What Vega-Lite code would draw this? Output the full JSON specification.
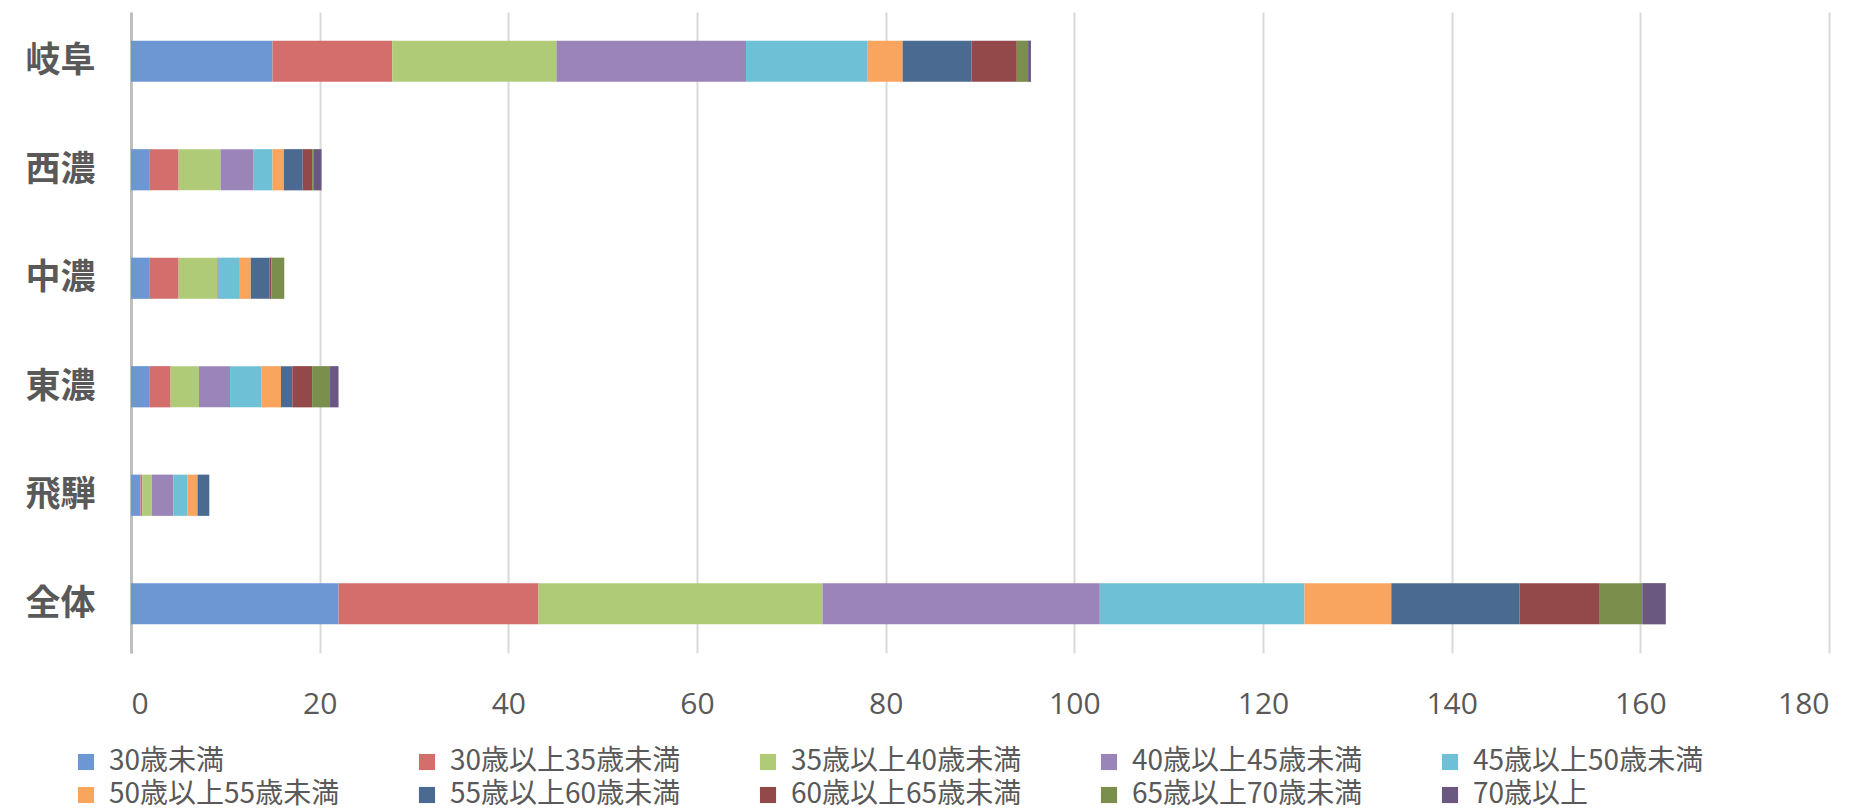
{
  "$schema": "https://vega.github.io/schema/vega-lite/v6.json",
  "autosize": {"type": "none"},
  "width": 1698,
  "height": 641,
  "padding": {"left": 131, "top": 12, "right": 35, "bottom": 158},
  "background": "#ffffff",
  "config": {
    "view": {"stroke": null},
    "font": "Noto Sans CJK JP"
  },
  "data": {
    "values": [
      {"region": "岐阜", "age": "30歳未満", "i": 1, "v": 15.0},
      {"region": "岐阜", "age": "30歳以上35歳未満", "i": 2, "v": 12.7},
      {"region": "岐阜", "age": "35歳以上40歳未満", "i": 3, "v": 17.4},
      {"region": "岐阜", "age": "40歳以上45歳未満", "i": 4, "v": 20.1},
      {"region": "岐阜", "age": "45歳以上50歳未満", "i": 5, "v": 12.9},
      {"region": "岐阜", "age": "50歳以上55歳未満", "i": 6, "v": 3.7},
      {"region": "岐阜", "age": "55歳以上60歳未満", "i": 7, "v": 7.3},
      {"region": "岐阜", "age": "60歳以上65歳未満", "i": 8, "v": 4.8},
      {"region": "岐阜", "age": "65歳以上70歳未満", "i": 9, "v": 1.2},
      {"region": "岐阜", "age": "70歳以上", "i": 10, "v": 0.3},
      {"region": "西濃", "age": "30歳未満", "i": 1, "v": 2.0},
      {"region": "西濃", "age": "30歳以上35歳未満", "i": 2, "v": 3.05},
      {"region": "西濃", "age": "35歳以上40歳未満", "i": 3, "v": 4.45},
      {"region": "西濃", "age": "40歳以上45歳未満", "i": 4, "v": 3.5},
      {"region": "西濃", "age": "45歳以上50歳未満", "i": 5, "v": 2.0},
      {"region": "西濃", "age": "50歳以上55歳未満", "i": 6, "v": 1.2},
      {"region": "西濃", "age": "55歳以上60歳未満", "i": 7, "v": 2.0},
      {"region": "西濃", "age": "60歳以上65歳未満", "i": 8, "v": 1.0},
      {"region": "西濃", "age": "65歳以上70歳未満", "i": 9, "v": 0.2},
      {"region": "西濃", "age": "70歳以上", "i": 10, "v": 0.8},
      {"region": "中濃", "age": "30歳未満", "i": 1, "v": 2.0},
      {"region": "中濃", "age": "30歳以上35歳未満", "i": 2, "v": 3.05},
      {"region": "中濃", "age": "35歳以上40歳未満", "i": 3, "v": 4.1},
      {"region": "中濃", "age": "40歳以上45歳未満", "i": 4, "v": 0.15},
      {"region": "中濃", "age": "45歳以上50歳未満", "i": 5, "v": 2.15},
      {"region": "中濃", "age": "50歳以上55歳未満", "i": 6, "v": 1.25},
      {"region": "中濃", "age": "55歳以上60歳未満", "i": 7, "v": 2.0},
      {"region": "中濃", "age": "60歳以上65歳未満", "i": 8, "v": 0.2},
      {"region": "中濃", "age": "65歳以上70歳未満", "i": 9, "v": 1.35},
      {"region": "中濃", "age": "70歳以上", "i": 10, "v": 0},
      {"region": "東濃", "age": "30歳未満", "i": 1, "v": 2.0},
      {"region": "東濃", "age": "30歳以上35歳未満", "i": 2, "v": 2.2},
      {"region": "東濃", "age": "35歳以上40歳未満", "i": 3, "v": 3.0},
      {"region": "東濃", "age": "40歳以上45歳未満", "i": 4, "v": 3.3},
      {"region": "東濃", "age": "45歳以上50歳未満", "i": 5, "v": 3.3},
      {"region": "東濃", "age": "50歳以上55歳未満", "i": 6, "v": 2.1},
      {"region": "東濃", "age": "55歳以上60歳未満", "i": 7, "v": 1.2},
      {"region": "東濃", "age": "60歳以上65歳未満", "i": 8, "v": 2.1},
      {"region": "東濃", "age": "65歳以上70歳未満", "i": 9, "v": 1.9},
      {"region": "東濃", "age": "70歳以上", "i": 10, "v": 0.9},
      {"region": "飛騨", "age": "30歳未満", "i": 1, "v": 1.0},
      {"region": "飛騨", "age": "30歳以上35歳未満", "i": 2, "v": 0.2},
      {"region": "飛騨", "age": "35歳以上40歳未満", "i": 3, "v": 1.0},
      {"region": "飛騨", "age": "40歳以上45歳未満", "i": 4, "v": 2.3},
      {"region": "飛騨", "age": "45歳以上50歳未満", "i": 5, "v": 1.5},
      {"region": "飛騨", "age": "50歳以上55歳未満", "i": 6, "v": 1.05},
      {"region": "飛騨", "age": "55歳以上60歳未満", "i": 7, "v": 1.25},
      {"region": "飛騨", "age": "60歳以上65歳未満", "i": 8, "v": 0},
      {"region": "飛騨", "age": "65歳以上70歳未満", "i": 9, "v": 0},
      {"region": "飛騨", "age": "70歳以上", "i": 10, "v": 0},
      {"region": "全体", "age": "30歳未満", "i": 1, "v": 22.0},
      {"region": "全体", "age": "30歳以上35歳未満", "i": 2, "v": 21.2},
      {"region": "全体", "age": "35歳以上40歳未満", "i": 3, "v": 30.1},
      {"region": "全体", "age": "40歳以上45歳未満", "i": 4, "v": 29.4},
      {"region": "全体", "age": "45歳以上50歳未満", "i": 5, "v": 21.7},
      {"region": "全体", "age": "50歳以上55歳未満", "i": 6, "v": 9.2},
      {"region": "全体", "age": "55歳以上60歳未満", "i": 7, "v": 13.6},
      {"region": "全体", "age": "60歳以上65歳未満", "i": 8, "v": 8.5},
      {"region": "全体", "age": "65歳以上70歳未満", "i": 9, "v": 4.5},
      {"region": "全体", "age": "70歳以上", "i": 10, "v": 2.5}
    ]
  },
  "layer": [
    {
      "mark": {"type": "bar", "stroke": null},
      "encoding": {
        "y": {
          "field": "region",
          "type": "nominal",
          "sort": ["岐阜", "西濃", "中濃", "東濃", "飛騨", "全体"],
          "scale": {"paddingInner": 0.62, "paddingOuter": 0.264},
          "axis": {
            "title": null,
            "domain": true,
            "domainColor": "#BFBFBF",
            "domainWidth": 3,
            "ticks": false,
            "labelFontSize": 35,
            "labelColor": "#595959",
            "labelFontWeight": "bold",
            "labelPadding": 36,
            "labelFont": "Noto Sans CJK JP"
          }
        },
        "x": {
          "field": "v",
          "type": "quantitative",
          "aggregate": "sum",
          "stack": "zero",
          "scale": {"domain": [0, 180], "nice": false},
          "axis": {
            "title": null,
            "values": [0, 20, 40, 60, 80, 100, 120, 140, 160, 180],
            "domain": false,
            "ticks": false,
            "grid": true,
            "gridColor": "#D9D9D9",
            "gridWidth": 2,
            "labelFontSize": 30,
            "labelColor": "#595959",
            "labelPadding": 36,
            "labelFont": "Open Sans"
          }
        },
        "order": {"field": "i", "type": "quantitative"},
        "color": {
          "field": "age",
          "type": "nominal",
          "sort": ["30歳未満", "30歳以上35歳未満", "35歳以上40歳未満", "40歳以上45歳未満", "45歳以上50歳未満", "50歳以上55歳未満", "55歳以上60歳未満", "60歳以上65歳未満", "65歳以上70歳未満", "70歳以上"],
          "scale": {
            "domain": ["30歳未満", "30歳以上35歳未満", "35歳以上40歳未満", "40歳以上45歳未満", "45歳以上50歳未満", "50歳以上55歳未満", "55歳以上60歳未満", "60歳以上65歳未満", "65歳以上70歳未満", "70歳以上"],
            "range": ["#6C97D3", "#D46E6C", "#AFCB77", "#9A84B8", "#6DC0D6", "#F9A55E", "#4A6A92", "#93484A", "#7A8F4C", "#6A5880"]
          },
          "legend": {
            "title": null,
            "orient": "none",
            "legendX": -59,
            "legendY": 736,
            "direction": "horizontal",
            "columns": 5,
            "gridAlign": "all",
            "columnPadding": 73,
            "rowPadding": 5,
            "symbolType": "square",
            "symbolSize": 260,
            "symbolStrokeWidth": 0,
            "labelFontSize": 28,
            "labelColor": "#595959",
            "labelOffset": 9,
            "labelLimit": 400,
            "padding": 0,
            "labelFont": "Noto Sans CJK JP"
          }
        }
      }
    }
  ]
}
